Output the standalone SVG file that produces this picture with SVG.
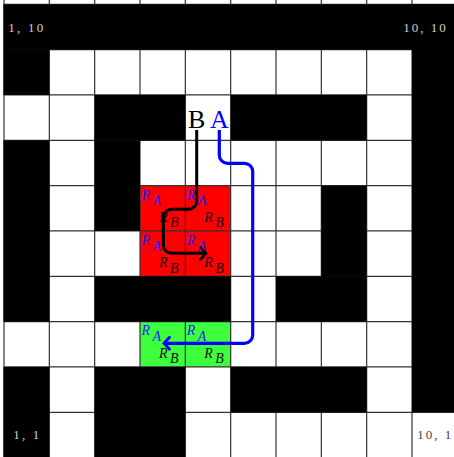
<svg xmlns="http://www.w3.org/2000/svg" width="454" height="457" viewBox="0 0 454 457">
<style>
.wall{fill:#000}
.grid line{stroke:#333;stroke-width:1.2}
.corner{font-family:"Liberation Serif",serif;font-size:13px}
.ra{font-family:"Liberation Serif",serif;font-style:italic;font-size:14px;fill:#1a1aff}
.rb{font-family:"Liberation Serif",serif;font-style:italic;font-size:14px;fill:#111}
.big{font-family:"Liberation Serif",serif;font-size:26px}
.path{fill:none;stroke-linecap:butt;stroke-linejoin:round}
</style>
<defs>
<marker id="arrB" markerUnits="userSpaceOnUse" viewBox="-8 -8 10 16" markerWidth="10" markerHeight="16" refX="0" refY="0" orient="auto">
<path d="M-5.5,-6 Q-1.5,-1.5 0,0 Q-1.5,1.5 -5.5,6" fill="none" stroke="#000" stroke-width="2.6" stroke-linecap="round"/>
</marker>
<marker id="arrA" markerUnits="userSpaceOnUse" viewBox="-8 -8 10 16" markerWidth="10" markerHeight="16" refX="0" refY="0" orient="auto">
<path d="M-5.5,-6 Q-1.5,-1.5 0,0 Q-1.5,1.5 -5.5,6" fill="none" stroke="#0000ff" stroke-width="2.8" stroke-linecap="round"/>
</marker>
</defs>
<rect x="0" y="0" width="454" height="457" fill="#fff"/>
<g id="regions">
<rect id="region-red" x="140" y="185.63" width="90.67" height="90.67" fill="#ff0000"/>
<rect id="region-green" x="140" y="321.63" width="90.67" height="45.33" fill="#3dff3d"/>
</g>
<g class="grid">
<line x1="4" y1="0" x2="4" y2="457"/>
<line x1="49.33" y1="0" x2="49.33" y2="457"/>
<line x1="94.67" y1="0" x2="94.67" y2="457"/>
<line x1="140" y1="0" x2="140" y2="457"/>
<line x1="185.33" y1="0" x2="185.33" y2="457"/>
<line x1="230.67" y1="0" x2="230.67" y2="457"/>
<line x1="276" y1="0" x2="276" y2="457"/>
<line x1="321.33" y1="0" x2="321.33" y2="457"/>
<line x1="366.67" y1="0" x2="366.67" y2="457"/>
<line x1="412" y1="0" x2="412" y2="457"/>
<line x1="4" y1="4.3" x2="454" y2="4.3"/>
<line x1="4" y1="49.63" x2="454" y2="49.63"/>
<line x1="4" y1="94.97" x2="454" y2="94.97"/>
<line x1="4" y1="140.3" x2="454" y2="140.3"/>
<line x1="4" y1="185.63" x2="454" y2="185.63"/>
<line x1="4" y1="230.97" x2="454" y2="230.97"/>
<line x1="4" y1="276.3" x2="454" y2="276.3"/>
<line x1="4" y1="321.63" x2="454" y2="321.63"/>
<line x1="4" y1="366.97" x2="454" y2="366.97"/>
<line x1="4" y1="412.3" x2="454" y2="412.3"/>
</g>
<g id="walls" class="wall">
<rect x="3.4" y="4.3" width="451" height="45.4"/>
<rect x="3.4" y="49.6" width="45.93" height="45.4"/>
<rect x="94.67" y="94.97" width="90.67" height="45.4"/>
<rect x="230.67" y="94.97" width="136" height="45.4"/>
<rect x="3.4" y="140.3" width="45.93" height="181.4"/>
<rect x="94.67" y="140.3" width="45.33" height="90.7"/>
<rect x="321.33" y="185.63" width="45.33" height="90.7"/>
<rect x="94.67" y="276.3" width="136" height="45.4"/>
<rect x="276" y="276.3" width="90.67" height="45.4"/>
<rect x="412" y="4.3" width="42" height="408"/>
<rect x="3.4" y="366.97" width="45.93" height="90.1"/>
<rect x="94.67" y="366.97" width="90.67" height="90.1"/>
<rect x="230.67" y="366.97" width="136" height="45.4"/>
</g>
<g id="labels">
<text class="corner" x="8.3" y="31.7" fill="#d0d0d0" textLength="35" lengthAdjust="spacing">1, 10</text>
<text class="corner" x="403.3" y="31.7" fill="#d0d0d0" textLength="42.5" lengthAdjust="spacing">10, 10</text>
<text class="corner" x="13.3" y="438.5" fill="#d0d0d0" textLength="26" lengthAdjust="spacing">1, 1</text>
<text class="corner" x="417.3" y="438.5" fill="#444" textLength="34" lengthAdjust="spacing">10, 1</text>
</g>
<g id="cell-4-6">
<text class="ra" x="141.5" y="200">R<tspan dx="2.5" dy="5.2">A</tspan></text>
<text class="rb" x="159" y="222.1">R<tspan dx="2.5" dy="5.1">B</tspan></text>
</g>
<g id="cell-5-6">
<text class="ra" x="186.8" y="200">R<tspan dx="2.5" dy="5.2">A</tspan></text>
<text class="rb" x="204.3" y="222.1">R<tspan dx="2.5" dy="5.1">B</tspan></text>
</g>
<g id="cell-4-5">
<text class="ra" x="141.5" y="245.3">R<tspan dx="2.5" dy="5.2">A</tspan></text>
<text class="rb" x="159" y="267.4">R<tspan dx="2.5" dy="5.1">B</tspan></text>
</g>
<g id="cell-5-5">
<text class="ra" x="186.8" y="245.3">R<tspan dx="2.5" dy="5.2">A</tspan></text>
<text class="rb" x="204.3" y="267.4">R<tspan dx="2.5" dy="5.1">B</tspan></text>
</g>
<g id="cell-4-3">
<text class="ra" x="141.5" y="335.3">R<tspan dx="2.5" dy="5.2">A</tspan></text>
<text class="rb" x="159" y="358.3">R<tspan dx="2.5" dy="5.1">B</tspan></text>
</g>
<g id="cell-5-3">
<text class="ra" x="186.8" y="335.3">R<tspan dx="2.5" dy="5.2">A</tspan></text>
<text class="rb" x="204.3" y="358.3">R<tspan dx="2.5" dy="5.1">B</tspan></text>
</g>
<g id="node-B">
<text class="big" x="188" y="127.5" fill="#000">B</text>
</g>
<g id="node-A">
<text class="big" x="210" y="127.5" fill="#0000ff">A</text>
</g>
<g id="connectors">
<path class="path" d="M196.7,130 V201 A8.3,8.3 0 0 1 188.4,209.3 H171.6 A8.3,8.3 0 0 0 163.3,217.6 V245 A8.3,8.3 0 0 0 171.6,253.3 H206" stroke="#000" stroke-width="3" marker-end="url(#arrB)"/>
<path class="path" d="M219.3,130 V155 A8.3,8.3 0 0 0 227.6,163.3 H244.4 A8.3,8.3 0 0 1 252.7,171.6 V335 A8.3,8.3 0 0 1 244.4,343.3 H164" stroke="#0000ff" stroke-width="3.2" marker-end="url(#arrA)"/>
</g>
</svg>
